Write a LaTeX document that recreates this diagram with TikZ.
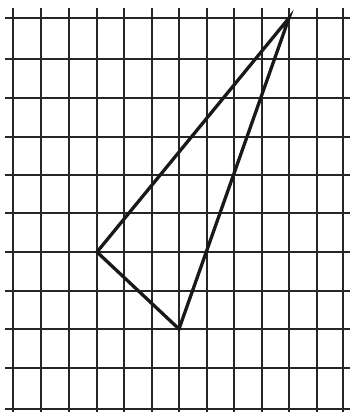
\documentclass[tikz,border=0pt]{standalone}
\begin{document}
\begin{tikzpicture}[x=1pt,y=-1pt,
  gridline/.style={line width=1.8pt,black!85},
  triline/.style={line width=3.3pt,black!90,line join=miter}]
\useasboundingbox (0,0) rectangle (350,412);
\foreach \x in {13,41,69,97,124,152,179,207,234,262,289,317,343}
  \draw[gridline] (\x,8) -- (\x,412);
\foreach \y in {18,59,98,137,175,213,252,291,329,368,409}
  \draw[gridline] (5,\y) -- (350,\y);
\coordinate (A) at (289,18);
\coordinate (B) at (97,252);
\coordinate (C) at (179,329);
\draw[triline] (A) -- (B) -- (C) -- cycle;
\end{tikzpicture}
\end{document}
